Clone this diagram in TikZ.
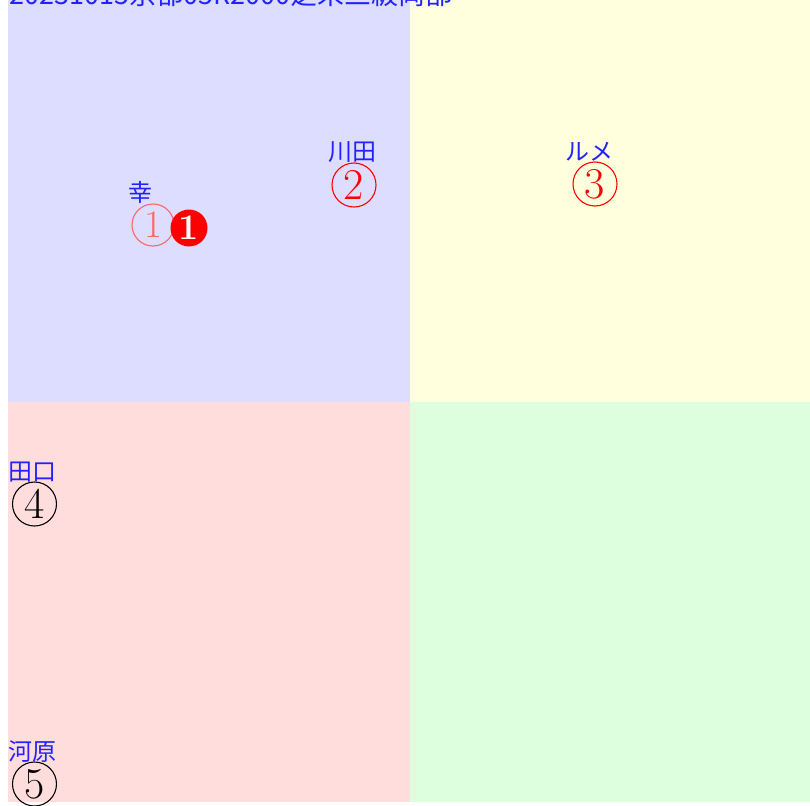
\documentclass[tikz,border=0pt]{standalone}
\usepackage{fontspec}
\newfontfamily\cjk{Noto Sans CJK JP}
\definecolor{qblue}{HTML}{DDDDFF}
\definecolor{qyellow}{HTML}{FFFFDD}
\definecolor{qpink}{HTML}{FFDDDD}
\definecolor{qgreen}{HTML}{DDFFDD}
\definecolor{lred}{HTML}{FF6666}
\definecolor{lblue}{HTML}{2222FF}
\tikzset{
  lbl/.style={text=lblue, font=\cjk\fontsize{24}{24}\selectfont, inner sep=0pt},
  circnum/.style={circle, draw=#1, text=#1, line width=1.1pt, minimum size=44pt, inner sep=0pt, font=\fontsize{44}{44}\selectfont},
  smallnum/.style={circle, draw=#1, text=#1, line width=1.1pt, minimum size=42pt, inner sep=0pt, font=\fontsize{39}{39}\selectfont},
  fillnum/.style={circle, fill=red, text=white, minimum size=37pt, inner sep=0pt, font=\bfseries\fontsize{36}{36}\selectfont},
}
\begin{document}
\begin{tikzpicture}[x=1pt,y=-1pt]
\clip (0,0) rectangle (810,805);
\fill[white] (0,0) rectangle (810,805);
\fill[qblue] (8,0) rectangle (410,402);
\fill[qyellow] (410,0) rectangle (810,402);
\fill[qpink] (8,402) rectangle (410,802);
\fill[qgreen] (410,402) rectangle (810,802);
\node[lbl, anchor=base west, font=\cjk\fontsize{27}{27}\selectfont] (title) at (9,5) {20231015京都05R2000芝未三級両部};
\node[smallnum=lred] (n1) at (153,225) {1};
\node[fillnum] (f1) at (189,228) {1};
\node[lbl] (l1) at (140,192) {幸};
\node[circnum=red] (n2) at (354,185) {2};
\node[lbl] (l2) at (352,152) {川田};
\node[circnum=red] (n3) at (595,184) {3};
\node[lbl] (l3) at (589,152) {ルメ};
\node[circnum=black] (n4) at (34.5,504) {4};
\node[lbl] (l4) at (33,472) {田口};
\node[circnum=black] (n5) at (34.5,784) {5};
\node[lbl] (l5) at (33,752) {河原};
\end{tikzpicture}
\end{document}
